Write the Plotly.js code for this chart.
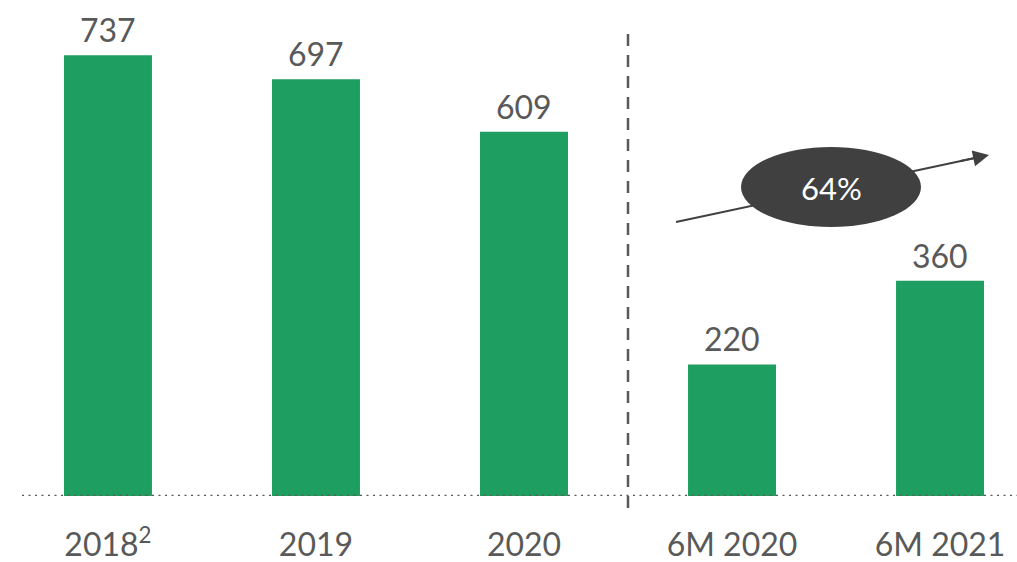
<!DOCTYPE html>
<html>
<head>
<meta charset="utf-8">
<script src="https://cdn.plot.ly/plotly-3.0.1.min.js"></script>
<style>html,body{margin:0;padding:0;background:#fff;}#chart{width:1017px;height:562px;}</style>
</head>
<body>
<div id="chart"></div>
<script>
const categories = ["2018", "2019", "2020", "6M 2020", "6M 2021"];
const tickLabels = ["2018<sup>2</sup>", "2019", "2020", "6M 2020", "6M 2021"];
const values = [737, 697, 609, 220, 360];
const growthLabel = "64%";

const GREEN = "#1e9e60";
const GREY_TXT = "#595959";
const DARK = "#404040";
const FONT = "Lato, 'Open Sans', sans-serif";

const W = 1017, H = 562, PLOT_H = 496;
const px = v => v / W;
const py = v => (PLOT_H - v) / PLOT_H;

const trace = {
  type: "bar",
  x: categories,
  y: values,
  width: 0.423,
  marker: { color: GREEN, line: { width: 0 } },
  hoverinfo: "skip",
  cliponaxis: false
};

// category index positions so numeric-looking names are not read as numbers
const valueAnnotations = categories.map((c, i) => ({
  x: i, y: values[i], xref: "x", yref: "y",
  text: String(values[i]), showarrow: false,
  yanchor: "bottom", yshift: 4,
  font: { family: FONT, size: 32, color: GREY_TXT }
}));

const layout = {
  width: W, height: H,
  margin: { l: 0, r: 0, t: 0, b: H - PLOT_H, pad: 0 },
  paper_bgcolor: "#fff", plot_bgcolor: "#fff",
  showlegend: false,
  xaxis: {
    type: "category",
    range: [-0.519, 4.370],
    tickmode: "array", tickvals: categories, ticktext: tickLabels,
    showgrid: false, zeroline: false, showline: false, ticks: "",
    ticklabelstandoff: 27,
    automargin: false,
    tickfont: { family: FONT, size: 32, color: GREY_TXT }
  },
  yaxis: {
    range: [0, PLOT_H / 0.598],
    visible: false, showgrid: false, zeroline: false, fixedrange: true
  },
  shapes: [
    { type: "line", xref: "paper", yref: "y", x0: px(22), x1: 1, y0: 0, y1: 0,
      line: { color: GREY_TXT, width: 2.5, dash: "2px,4.5px" }, layer: "above" },
    { type: "line", xref: "paper", yref: "paper", x0: px(628), x1: px(628), y0: py(508), y1: py(27),
      line: { color: GREY_TXT, width: 2.5, dash: "12px,9px" }, layer: "above" },
    { type: "line", xref: "paper", yref: "paper", x0: px(676), y0: py(222), x1: px(975), y1: py(158),
      line: { color: DARK, width: 2 }, layer: "above" },
    { type: "circle", xref: "paper", yref: "paper", x0: px(741), x1: px(921), y0: py(227), y1: py(147),
      fillcolor: DARK, line: { width: 0 }, layer: "above" }
  ],
  annotations: valueAnnotations.concat([
    { xref: "paper", yref: "paper", x: px(989), y: py(155), axref: "pixel", ayref: "pixel",
      ax: -30, ay: 6.4, text: "", showarrow: true, arrowhead: 2, arrowsize: 1.6,
      arrowwidth: 2, arrowcolor: DARK },
    { xref: "paper", yref: "paper", x: px(831), y: py(188), text: growthLabel, showarrow: false,
      xanchor: "center", yanchor: "middle",
      font: { family: FONT, size: 31, color: "#ffffff" } }
  ])
};

Plotly.newPlot("chart", [trace], layout, { displayModeBar: false, staticPlot: true });
</script>
</body>
</html>
